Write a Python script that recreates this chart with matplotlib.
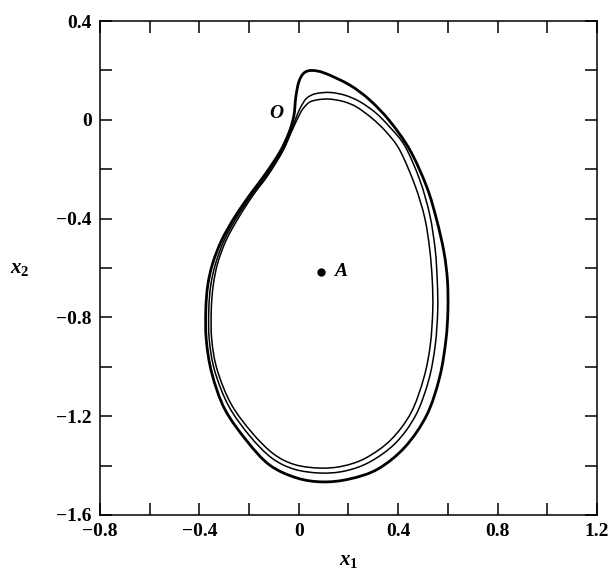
import numpy as np
import matplotlib.pyplot as plt
from matplotlib.path import Path
from matplotlib.patches import PathPatch
from matplotlib.ticker import MultipleLocator

plt.rcParams['font.family'] = ['Liberation Serif', 'DejaVu Serif']
plt.rcParams['mathtext.fontset'] = 'custom'
plt.rcParams['mathtext.it'] = 'Liberation Serif:italic:bold'
plt.rcParams['mathtext.rm'] = 'Liberation Serif:bold'

# trajectories in the (x1, x2) phase plane, clockwise from the saddle O
outer_x1 = [-0.020, -0.012, 0.000, 0.020, 0.052, 0.105, 0.205, 0.286, 0.366, 0.447,
            0.515, 0.555, 0.584, 0.598, 0.600, 0.592, 0.567, 0.515, 0.427, 0.318,
            0.205, 0.097, -0.008, -0.117, -0.209, -0.298, -0.350, -0.372, -0.374,
            -0.366, -0.346, -0.310, -0.258, -0.197, -0.137, -0.076, -0.040]
outer_x2 = [0.015, 0.092, 0.153, 0.189, 0.200, 0.189, 0.141, 0.080, -0.005, -0.122,
            -0.272, -0.406, -0.535, -0.649, -0.770, -0.891, -1.041, -1.195, -1.325, -1.414,
            -1.454, -1.466, -1.450, -1.398, -1.300, -1.171, -1.025, -0.891, -0.770,
            -0.669, -0.580, -0.487, -0.394, -0.304, -0.223, -0.130, -0.053]

middle_x1 = [-0.010, 0.008, 0.032, 0.068, 0.125, 0.185, 0.245, 0.310, 0.366, 0.427,
             0.487, 0.527, 0.549, 0.557, 0.559, 0.549, 0.523, 0.471, 0.390, 0.286,
             0.185, 0.085, -0.020, -0.109, -0.197, -0.282, -0.338, -0.360, -0.362,
             -0.354, -0.334, -0.300, -0.249, -0.189, -0.129, -0.068, -0.032]
middle_x2 = [0.011, 0.052, 0.088, 0.106, 0.111, 0.100, 0.074, 0.028, -0.029, -0.106,
             -0.244, -0.385, -0.527, -0.649, -0.770, -0.912, -1.053, -1.195, -1.308, -1.385,
             -1.422, -1.430, -1.414, -1.369, -1.280, -1.159, -1.017, -0.891, -0.770,
             -0.669, -0.580, -0.487, -0.394, -0.304, -0.223, -0.126, -0.049]

inner_x1 = [-0.004, 0.016, 0.044, 0.080, 0.125, 0.181, 0.233, 0.294, 0.350, 0.406,
            0.467, 0.507, 0.527, 0.537, 0.539, 0.529, 0.503, 0.451, 0.370, 0.270,
            0.177, 0.085, -0.016, -0.101, -0.187, -0.272, -0.328, -0.350, -0.352,
            -0.344, -0.326, -0.292, -0.241, -0.183, -0.123, -0.064, -0.028]
inner_x2 = [0.007, 0.044, 0.072, 0.082, 0.084, 0.074, 0.052, 0.007, -0.047, -0.122,
            -0.264, -0.398, -0.527, -0.649, -0.770, -0.912, -1.045, -1.187, -1.296, -1.369,
            -1.402, -1.410, -1.396, -1.353, -1.268, -1.151, -1.013, -0.891, -0.770,
            -0.669, -0.580, -0.487, -0.394, -0.304, -0.223, -0.126, -0.045]

# equilibrium points
A_point = (0.091, -0.615)
O_point = (-0.02, 0.005)


def closed_smooth_path(xs, ys):
    # closed Catmull-Rom curve written as cubic Bezier segments
    p = np.column_stack([xs, ys])
    n = len(p)
    verts = [p[0]]
    codes = [Path.MOVETO]
    for i in range(n):
        p0, p1, p2, p3 = p[i - 1], p[i], p[(i + 1) % n], p[(i + 2) % n]
        verts += [p1 + (p2 - p0) / 6, p2 - (p3 - p1) / 6, p2]
        codes += [Path.CURVE4] * 3
    return Path(verts, codes)


fig = plt.figure(figsize=(6.13, 5.70), dpi=100)
ax = fig.add_axes([0.163, 0.0965, 0.811, 0.8665])

for xs, ys, lw in [(outer_x1, outer_x2, 2.0), (middle_x1, middle_x2, 1.1),
                   (inner_x1, inner_x2, 1.1)]:
    ax.add_patch(PathPatch(closed_smooth_path(xs, ys), fill=False,
                           edgecolor='black', lw=lw, joinstyle='round'))

ax.plot(*A_point, 'o', color='black', ms=5)
ax.text(A_point[0] + 0.05, A_point[1], 'A', fontsize=14, fontweight='bold',
        fontstyle='italic', va='center', ha='left')
ax.text(O_point[0] - 0.07, O_point[1] + 0.02, 'O', fontsize=14, fontweight='bold',
        fontstyle='italic', va='center', ha='center')

ax.set_xlim(-0.8, 1.2)
ax.set_ylim(-1.6, 0.4)
ax.xaxis.set_major_locator(MultipleLocator(0.4))
ax.xaxis.set_minor_locator(MultipleLocator(0.2))
ax.yaxis.set_major_locator(MultipleLocator(0.4))
ax.yaxis.set_minor_locator(MultipleLocator(0.2))
ax.tick_params(which='both', direction='in', top=True, right=True,
               length=8.5, width=1.1, labelsize=14)
ax.tick_params(axis='x', pad=6)
ax.tick_params(axis='y', pad=6)
fmt = plt.FuncFormatter(lambda v, p: '0' if abs(v) < 1e-9 else f'{v:.1f}'.replace('-', '\u2212'))
ax.xaxis.set_major_formatter(fmt)
ax.yaxis.set_major_formatter(fmt)
for lab in ax.get_xticklabels() + ax.get_yticklabels():
    lab.set_fontweight('bold')
for s in ax.spines.values():
    s.set_linewidth(1.1)

ax.set_xlabel(r'$x_1$', fontsize=15, labelpad=8)
ax.set_ylabel(r'$x_2$', fontsize=15, rotation=0, labelpad=26, va='center')

fig.savefig('out.png', dpi=100)
